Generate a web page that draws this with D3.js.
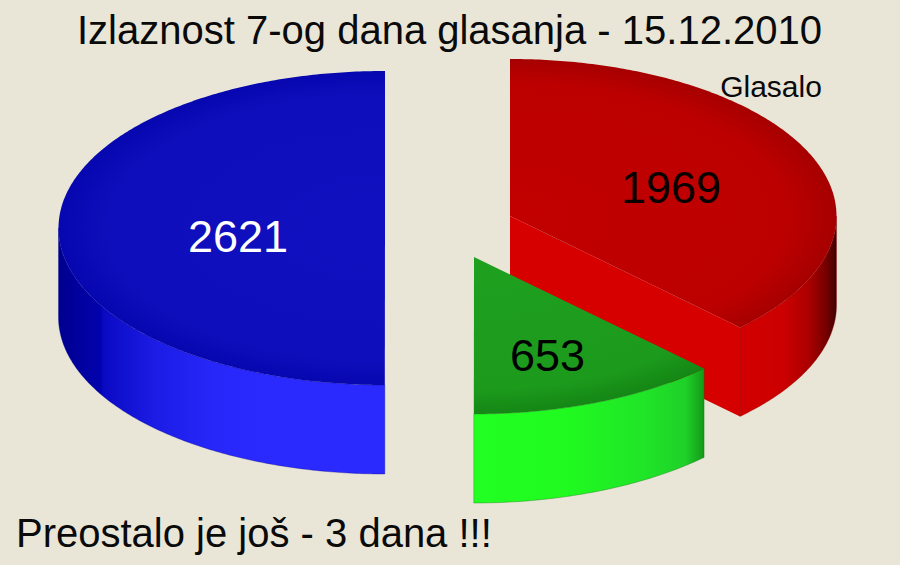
<!DOCTYPE html>
<html><head><meta charset="utf-8">
<script src="https://cdn.jsdelivr.net/npm/d3@7/dist/d3.min.js"></script>
<style>html,body{margin:0;padding:0;background:#e9e6d7}svg{display:block}text{font-family:"Liberation Sans",Arial,sans-serif}</style>
</head><body><svg id="c" width="900" height="565"></svg>
<script>
const categories = ["Glasalo crveno", "Glasalo zeleno", "Glasalo plavo"];
const values = [1969, 653, 2621];
const titleText = "Izlaznost 7-og dana glasanja - 15.12.2010";
const legendText = "Glasalo";
const footerText = "Preostalo je još - 3 dana !!!";

const svg = d3.select("#c");
const W = 900, H = 565;
svg.append("rect").attr("width", W).attr("height", H).attr("fill", "#e9e6d7");
const defs = svg.append("defs");

const RX = 326.5, RY = 157, DEPTH = 89;
const layout = [
  {cx: 510, cy: 216, top: ["#c20000", "#bc0000", "#a60000"], stroke: "#8c0000", label: [671, 203], text: "#0a0000"},
  {cx: 474, cy: 257, top: ["#1fa01f", "#1c9a1c", "#148614"], stroke: "#0b6e0b", label: [547.5, 371], text: "#000"},
  {cx: 385, cy: 228, top: ["#1010c0", "#0e0ebc", "#0707b0"], stroke: "#000090", label: [238, 252], text: "#fff"}
];
const arcs = d3.pie().sort(null).value(d => d).startAngle(0).endAngle(2 * Math.PI)(values);

function gradient(id, x1, x2, stops) {
  const g = defs.append("linearGradient").attr("id", id).attr("gradientUnits", "userSpaceOnUse")
    .attr("x1", x1).attr("x2", x2).attr("y1", 0).attr("y2", 0);
  stops.forEach(s => g.append("stop").attr("offset", s[0]).attr("stop-color", s[1]));
  return `url(#${id})`;
}
function topGradient(id, l) {
  const g = defs.append("radialGradient").attr("id", id).attr("gradientUnits", "userSpaceOnUse")
    .attr("cx", 0).attr("cy", 0).attr("r", 1)
    .attr("gradientTransform", `translate(${l.cx},${l.cy}) scale(${RX},${RY})`);
  g.append("stop").attr("offset", 0).attr("stop-color", l.top[0]);
  g.append("stop").attr("offset", .85).attr("stop-color", l.top[1]);
  g.append("stop").attr("offset", 1).attr("stop-color", l.top[2]);
  return `url(#${id})`;
}
const scales = layout.map(l => ({
  x: d3.scaleLinear().domain([-1, 1]).range([l.cx - RX, l.cx + RX]),
  y: d3.scaleLinear().domain([-1, 1]).range([l.cy - RY, l.cy + RY])
}));
const rimPoint = (i, a, dz = 0) => [scales[i].x(Math.sin(a)), scales[i].y(-Math.cos(a)) + dz];
const rim = (i, a0, a1, dz = 0) => {
  const n = Math.max(2, Math.ceil(Math.abs(a1 - a0) * 90));
  return d3.range(n + 1).map(k => rimPoint(i, a0 + (a1 - a0) * k / n, dz));
};
const line = d3.line();
const center = i => [layout[i].cx, layout[i].cy];

function wall(i, a0, a1, fill) {
  const pts = rim(i, a0, a1).concat(rim(i, a1, a0, DEPTH));
  svg.append("path").attr("d", line(pts) + "Z").attr("fill", fill)
    .attr("stroke", layout[i].stroke).attr("stroke-width", .5).attr("stroke-opacity", .7);
}
function face(i) {
  const d = arcs[i];
  const pts = [center(i)].concat(rim(i, d.startAngle, d.endAngle));
  svg.append("path").attr("d", line(pts) + "Z").attr("fill", topGradient("top" + i, layout[i]));
}

// blue
wall(2, arcs[2].startAngle, 3 * Math.PI / 2, gradient("gb", 58, 385, [
  [0, "#00008e"], [.13, "#0202ae"], [.14, "#0a0ac4"], [.3, "#1c1ce6"], [.48, "#2727fa"], [.65, "#2a2aff"], [1, "#2a2aff"]]));
face(2);
// red
const ra = arcs[0].endAngle;
const redEnd = rimPoint(0, ra);
svg.append("path")
  .attr("d", line([center(0), redEnd, [redEnd[0], redEnd[1] + DEPTH], [center(0)[0], center(0)[1] + DEPTH]]) + "Z")
  .attr("fill", "#d60000");
wall(0, Math.PI / 2, ra, gradient("gr", redEnd[0], 836, [
  [0, "#c80000"], [.02, "#d20000"], [.45, "#cc0000"], [.72, "#aa0000"], [.9, "#740000"], [1, "#420000"]]));
face(0);
// green
wall(1, arcs[1].startAngle, arcs[1].endAngle, gradient("gg", 474, 704, [
  [0, "#22ff22"], [.4, "#20fa20"], [.75, "#20e428"], [.92, "#1fd028"], [1, "#129a18"]]));
face(1);

// labels
layout.forEach((l, i) => svg.append("text").attr("x", l.label[0]).attr("y", l.label[1])
  .attr("text-anchor", "middle").attr("font-size", 45).attr("fill", l.text).text(values[i]));
svg.append("text").attr("x", 449.5).attr("y", 44).attr("text-anchor", "middle").attr("font-size", 40).attr("fill", "#0a0a0a").text(titleText);
svg.append("text").attr("x", 771).attr("y", 97).attr("text-anchor", "middle").attr("font-size", 30).attr("fill", "#0a0a0a").text(legendText);
svg.append("text").attr("x", 16).attr("y", 547).attr("font-size", 40).attr("fill", "#0a0a0a").text(footerText);
</script></body></html>
